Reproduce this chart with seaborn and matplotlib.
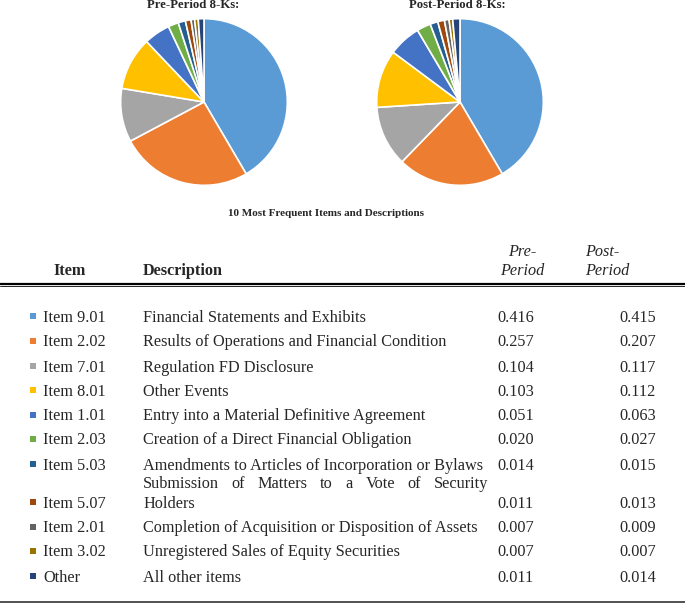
import matplotlib
matplotlib.use("Agg")
import matplotlib.pyplot as plt
import seaborn as sns

# data
items = ["Item 9.01", "Item 2.02", "Item 7.01", "Item 8.01", "Item 1.01", "Item 2.03",
         "Item 5.03", "Item 5.07", "Item 2.01", "Item 3.02", "Other"]
descriptions = [
    "Financial Statements and Exhibits",
    "Results of Operations and Financial Condition",
    "Regulation FD Disclosure",
    "Other Events",
    "Entry into a Material Definitive Agreement",
    "Creation of a Direct Financial Obligation",
    "Amendments to Articles of Incorporation or Bylaws",
    "Submission of Matters to a Vote of Security Holders",
    "Completion of Acquisition or Disposition of Assets",
    "Unregistered Sales of Equity Securities",
    "All other items",
]
pre_period = [0.416, 0.257, 0.104, 0.103, 0.051, 0.020, 0.014, 0.011, 0.007, 0.007, 0.011]
post_period = [0.415, 0.207, 0.117, 0.112, 0.063, 0.027, 0.015, 0.013, 0.009, 0.007, 0.014]
item_colors = ["#5B9BD5", "#ED7D31", "#A5A5A5", "#FFC000", "#4472C4", "#70AD47",
               "#255E91", "#9E480E", "#636363", "#997300", "#264478"]

sns.set_theme(style="white")
plt.rcParams["font.family"] = ["Liberation Serif", "DejaVu Serif"]
palette = sns.color_palette(item_colors)

W, H = 685, 605
fig = plt.figure(figsize=(W / 100, H / 100), dpi=100)


def px_axes(x0, y0, w, h):
    # axes placed by pixel box (top-left origin)
    return fig.add_axes([x0 / W, 1 - (y0 + h) / H, w / W, h / H])


def draw_pie(ax, values, title, title_x):
    ax.pie(values, colors=palette, startangle=90, counterclock=False,
           wedgeprops=dict(edgecolor="white", linewidth=1.2))
    ax.set_xlim(-1.02, 1.02)
    ax.set_ylim(-1.02, 1.02)
    ax.set_aspect("equal")
    ax.axis("off")
    fig.text(title_x / W, 1 - 5 / H, title, ha="center", va="center",
             fontsize=9.2, fontweight="bold")


draw_pie(px_axes(119, 17, 170, 170), pre_period, "Pre-Period 8-Ks:", 193)
draw_pie(px_axes(375, 17, 170, 170), post_period, "Post-Period 8-Ks:", 457)

# table part
tab = px_axes(0, 0, W, H)
tab.set_xlim(0, W)
tab.set_ylim(H, 0)
tab.axis("off")

fs = 11.7
tab.text(326, 213, "10 Most Frequent Items and Descriptions", ha="center", va="center",
         fontsize=8, fontweight="bold")
tab.text(53, 271, "Item", ha="left", va="center", fontsize=fs, fontweight="bold")
tab.text(143, 271, "Description", ha="left", va="center", fontsize=fs, fontweight="bold")
tab.text(508, 252, "Pre-", ha="left", va="center", fontsize=fs, style="italic")
tab.text(500, 271, "Period", ha="left", va="center", fontsize=fs, style="italic")
tab.text(585, 252, "Post-", ha="left", va="center", fontsize=fs, style="italic")
tab.text(585, 271, "Period", ha="left", va="center", fontsize=fs, style="italic")
tab.plot([0, W], [283.5, 283.5], color="black", lw=1.6)
tab.plot([0, W], [286, 286], color="black", lw=0.6)
tab.plot([0, W], [602, 602], color="#333333", lw=1.2)

row_y = [316, 341, 366, 390, 415, 439, 464, 502, 527, 551, 576]
tab.scatter([33] * len(items), row_y, marker="s", s=14, c=item_colors, linewidths=0)
fig.canvas.draw()
renderer = fig.canvas.get_renderer()


def justified(text, x0, x1, y):
    # spread words over the line, like the justified table cell
    words = text.split()
    widths = []
    for w in words:
        t = tab.text(0, 0, w, fontsize=fs)
        bb = t.get_window_extent(renderer=renderer)
        widths.append(bb.width * W / fig.bbox.width)
        t.remove()
    gap = (x1 - x0 - sum(widths)) / (len(words) - 1)
    x = x0
    for w, wd in zip(words, widths):
        tab.text(x, y, w, ha="left", va="center", fontsize=fs)
        x += wd + gap


for name, desc, pre, post, y in zip(items, descriptions, pre_period, post_period, row_y):
    ty = y + 1.5
    tab.text(43, ty, name, ha="left", va="center", fontsize=fs)
    if name == "Item 5.07":
        justified("Submission of Matters to a Vote of Security", 143, 488, ty - 19)
        tab.text(143, ty, "Holders", ha="left", va="center", fontsize=fs)
    else:
        tab.text(143, ty, desc, ha="left", va="center", fontsize=fs)
    tab.text(534, ty, f"{pre:.3f}", ha="right", va="center", fontsize=fs)
    tab.text(656, ty, f"{post:.3f}", ha="right", va="center", fontsize=fs)

fig.savefig("out.png", dpi=100)
